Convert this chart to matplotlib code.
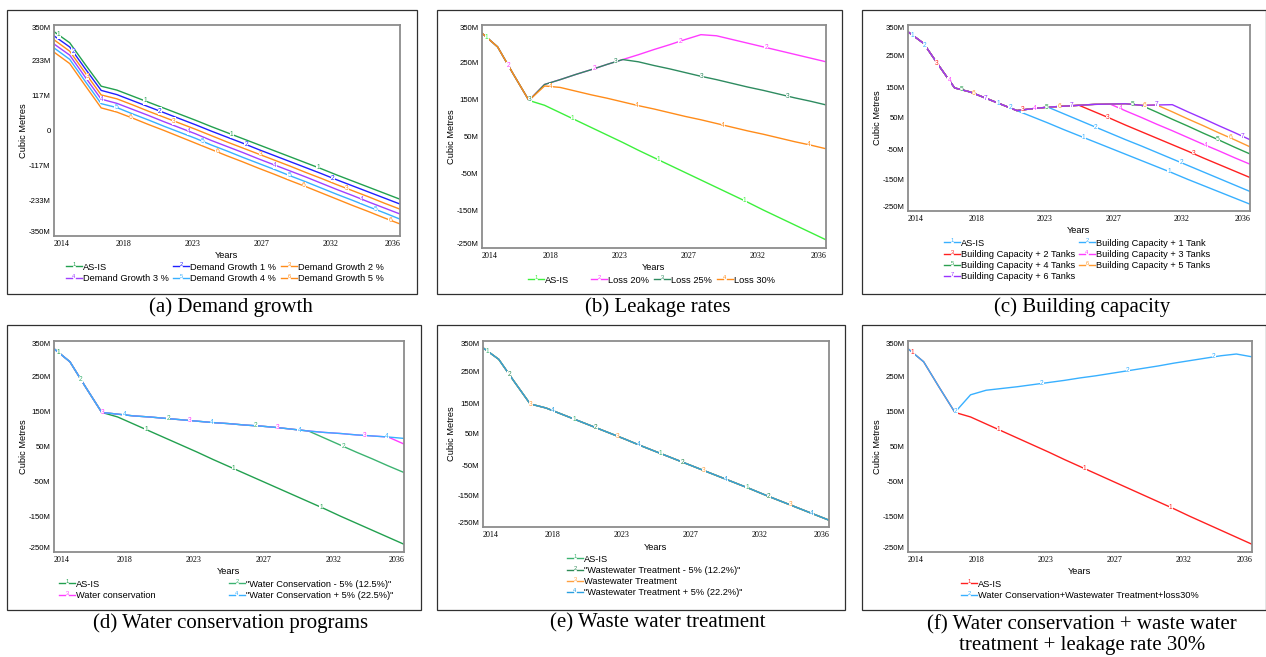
import numpy as np
import matplotlib
matplotlib.use("Agg")
import matplotlib.pyplot as plt
from matplotlib.lines import Line2D
from matplotlib.text import Text
from matplotlib.patches import Rectangle
from matplotlib.legend_handler import HandlerBase

plt.rcParams['font.family'] = ['Liberation Sans', 'DejaVu Sans']

W, H = 1266, 657

# ---------------- data ----------------
years = list(range(2014, 2037))
xtick_labels = ['2014', '2018', '2023', '2027', '2032', '2036']
yticks_a = [-350, -233.33, -116.67, 0, 116.67, 233.33, 350]
yticklabels_a = ['-350M', '-233M', '-117M', '0', '117M', '233M', '350M']
yticks_std = [-250, -150, -50, 50, 150, 250, 350]
yticklabels_std = ['-250M', '-150M', '-50M', '50M', '150M', '250M', '350M']

asis = [328, 291, 218, 147, 134, 114, 94, 74, 54, 34, 13, -7, -27, -47, -67, -87, -107, -127, -148, -168, -188, -208, -228]

# (a) demand growth
dg1 = [314, 277, 204, 133, 119, 99, 79, 59, 39, 19, -2, -22, -42, -63, -83, -103, -123, -143, -164, -184, -204, -224, -244]
dg2 = [301, 263, 190, 118, 105, 85, 64, 44, 24, 4, -17, -38, -58, -78, -98, -118, -139, -159, -180, -200, -220, -241, -261]
dg3 = [287, 250, 176, 104, 90, 70, 50, 29, 9, -11, -33, -53, -73, -94, -114, -134, -154, -175, -196, -216, -237, -257, -277]
dg4 = [274, 236, 162, 89, 76, 55, 35, 14, -6, -26, -48, -68, -89, -109, -129, -150, -170, -191, -212, -232, -253, -273, -294]
dg5 = [260, 222, 148, 75, 61, 41, 20, 0, -21, -42, -63, -84, -104, -125, -145, -166, -186, -207, -228, -249, -269, -290, -310]
names_a = ['AS-IS', 'Demand Growth 1 %', 'Demand Growth 2 %', 'Demand Growth 3 %',
           'Demand Growth 4 %', 'Demand Growth 5 %']
colors_a = ['#22a04f', '#2020ff', '#ff8c1a', '#a040ff', '#38b0ff', '#ff8c1a']

# (b) leakage rates
loss20 = [328, 291, 218, 147, 190, 203, 217, 230, 244, 257, 270, 284, 297, 311, 324, 321, 311, 301, 291, 281, 271, 261, 251]
loss25 = [328, 291, 218, 147, 190, 203, 217, 230, 244, 257, 251, 241, 232, 222, 212, 203, 193, 183, 174, 164, 154, 145, 135]
loss30 = [328, 291, 218, 147, 186, 182, 172, 162, 153, 143, 133, 124, 114, 104, 95, 85, 75, 65, 56, 46, 36, 27, 17]
names_b = ['AS-IS', 'Loss 20%', 'Loss 25%', 'Loss 30%']
colors_b = ['#3cf03c', '#ff3cff', '#2e8b60', '#ff8c1a']

# (c) building capacity
bc1 = [328, 291, 218, 147, 134, 114, 94, 74, 80, 85, 64, 43, 22, 1, -20, -40, -61, -82, -103, -124, -145, -166, -187]
bc2 = [328, 291, 218, 147, 134, 114, 94, 74, 80, 85, 88, 91, 70, 49, 27, 6, -15, -36, -57, -79, -100, -121, -142]
bc3 = [328, 291, 218, 147, 134, 114, 94, 74, 80, 85, 88, 91, 94, 95, 73, 52, 30, 9, -13, -35, -56, -78, -99]
bc4 = [328, 291, 218, 147, 134, 114, 94, 74, 80, 85, 88, 91, 94, 95, 96, 91, 69, 46, 24, 1, -21, -44, -66]
bc5 = [328, 291, 218, 147, 134, 114, 94, 74, 80, 85, 88, 91, 94, 95, 96, 91, 92, 70, 47, 25, 2, -20, -43]
bc6 = [328, 291, 218, 147, 134, 114, 94, 74, 80, 85, 88, 91, 94, 95, 96, 91, 92, 93, 70, 48, 25, 3, -20]
names_c = ['AS-IS', 'Building Capacity + 1 Tank', 'Building Capacity + 2 Tanks',
           'Building Capacity + 3 Tanks', 'Building Capacity + 4 Tanks',
           'Building Capacity + 5 Tanks', 'Building Capacity + 6 Tanks']
colors_c = ['#38b0ff', '#38b0ff', '#ff2020', '#ff3cff', '#2ca050', '#ff9a30', '#9933ff']

# (d) water conservation
wc_minus = [328, 291, 218, 147, 142, 137, 134, 130, 126, 122, 118, 115, 111, 108, 104, 99, 94, 74, 54, 34, 15, -5, -24]
wc_base = [328, 291, 218, 147, 142, 137, 134, 130, 126, 122, 118, 115, 111, 108, 104, 99, 94, 90, 87, 83, 80, 77, 57]
wc_plus = [328, 291, 218, 147, 142, 137, 134, 130, 126, 122, 118, 115, 111, 108, 104, 99, 94, 90, 87, 83, 80, 77, 73]
names_d = ['AS-IS', '"Water Conservation - 5% (12.5%)"', 'Water conservation',
           '"Water Conservation + 5% (22.5%)"']
colors_d = ['#22a04f', '#3cb371', '#ff3cff', '#38b0ff']

# (e) waste water treatment
ww_minus = [328, 291, 218, 147, 134, 114, 94, 74, 54, 34, 13, -7, -27, -47, -67, -87, -107, -127, -148, -168, -188, -208, -228]
ww_base = [328, 291, 218, 147, 134, 114, 94, 74, 54, 34, 13, -7, -27, -47, -67, -87, -107, -127, -148, -168, -188, -208, -228]
ww_plus = [328, 291, 218, 147, 134, 114, 94, 74, 54, 34, 13, -7, -27, -47, -67, -87, -107, -127, -148, -168, -188, -208, -228]
names_e = ['AS-IS', '"Wastewater Treatment - 5% (12.2%)"', 'Wastewater Treatment',
           '"Wastewater Treatment + 5% (22.2%)"']
colors_e = ['#3cb371', '#2e8b57', '#ffa040', '#2a9fe0']

# (f) combined
combo = [328, 291, 218, 147, 197, 210, 215, 220, 226, 232, 238, 245, 251, 258, 265, 272, 279, 287, 294, 301, 308, 313, 305]
names_f = ['AS-IS', 'Water Conservation+Wastewater Treatment+loss30%']
colors_f = ['#ff2020', '#38b0ff']


class NumHandler(HandlerBase):
    def create_artists(self, legend, orig_handle, xdescent, ydescent, width,
                       height, fontsize, trans):
        c = orig_handle.get_color()
        y = height / 2.0 - ydescent
        x0 = -xdescent
        a = Line2D([x0, x0 + 0.36 * width], [y, y], color=c, lw=1.0, transform=trans)
        b = Line2D([x0 + 0.64 * width, x0 + width], [y, y], color=c, lw=1.0, transform=trans)
        t = Text(x0 + 0.5 * width, y + 1.0, orig_handle.get_gid(), color=c,
                 fontsize=fontsize * 0.62, ha='center', va='center', transform=trans)
        return [a, b, t]


fig = plt.figure(figsize=(W / 100, H / 100), dpi=100)


def px_rect(x0, y0, x1, y1):
    return [x0 / W, 1 - y1 / H, (x1 - x0) / W, (y1 - y0) / H]


def draw_panel(rect, ylim, yticks, yticklabels, series, colors, names,
               leg_x, leg_cols, leg_y, box, caption, cap_xy):
    ax = fig.add_axes(px_rect(*rect))
    wpx = rect[2] - rect[0]
    hpx = rect[3] - rect[1]
    for vals, c in zip(series, colors):
        ax.plot(years, vals, color=c, lw=1.0, solid_joinstyle='round')
    n = len(series)
    for k, (vals, c) in enumerate(zip(series, colors)):
        for j in range(4):
            t = 2014.3 + 5.5 * j + 5.5 * k / n
            if t <= 2035.8:
                ax.text(t, np.interp(t, years, vals), str(k + 1), color=c,
                        fontsize=4.8, ha='center', va='center', zorder=5,
                        bbox=dict(facecolor='white', edgecolor='none', pad=0.05))
    ax.set_xlim(2014, 2036)
    ax.set_ylim(*ylim)
    ax.set_xticks(np.linspace(2014, 2036, 6))
    ax.set_xticklabels(xtick_labels, family='Liberation Serif', fontsize=5.8)
    ax.set_yticks(yticks)
    ax.set_yticklabels(yticklabels, fontsize=5.6)
    ax.tick_params(length=0)
    ax.tick_params(axis='x', pad=2.6)
    ax.tick_params(axis='y', pad=2.5)
    xtl = ax.get_xticklabels()
    xtl[0].set_ha('left')
    xtl[-1].set_ha('right')
    ytl = ax.get_yticklabels()
    ytl[0].set_va('bottom')
    ytl[-1].set_va('top')
    for s in ax.spines.values():
        s.set_color('#8c8c8c')
        s.set_linewidth(1.3)
    ax.set_xlabel('Years', fontsize=6.7)
    ax.xaxis.label.set_va('center')
    ax.xaxis.set_label_coords(0.5, -20.0 / hpx)
    ax.set_ylabel('Cubic Metres', fontsize=6.7)
    ax.yaxis.label.set_va('center')
    ax.yaxis.set_label_coords(-31.0 / wpx, 0.5)

    for cx, idxs in zip(leg_x, leg_cols):
        hs = [Line2D([], [], color=colors[i], gid=str(i + 1)) for i in idxs]
        fig.legend(hs, [names[i] for i in idxs], loc='upper left',
                   bbox_to_anchor=(cx / W, 1 - (leg_y - 5.4) / H),
                   frameon=False, borderpad=0, borderaxespad=0,
                   handlelength=1.7, handletextpad=0.12, labelspacing=0.24,
                   fontsize=6.7, handler_map={Line2D: NumHandler()})

    bx0, by0, bx1, by1 = box
    fig.add_artist(Rectangle((bx0 / W, 1 - by1 / H), (bx1 - bx0) / W, (by1 - by0) / H,
                             transform=fig.transFigure, fill=False,
                             edgecolor='#303030', lw=0.9))
    fig.text(cap_xy[0] / W, 1 - cap_xy[1] / H, caption, ha='center', va='center',
             fontsize=15, family='Liberation Serif', linespacing=1.05)
    return ax


draw_panel((54, 25, 400, 236), (-350, 350), yticks_a, yticklabels_a,
           [asis, dg1, dg2, dg3, dg4, dg5], colors_a, names_a,
           [66, 173, 281], [[0, 3], [1, 4], [2, 5]], 268,
           (7.5, 9.5, 416.5, 294), '(a) Demand growth', (230.5, 307))

draw_panel((482, 25, 826, 248), (-250, 350), yticks_std, yticklabels_std,
           [asis, loss20, loss25, loss30], colors_b, names_b,
           [528, 591, 654, 717], [[0], [1], [2], [3]], 281,
           (436.5, 9.5, 842, 294), '(b) Leakage rates', (658, 307))

draw_panel((908, 25, 1250, 211), (-250, 350), yticks_std, yticklabels_std,
           [asis, bc1, bc2, bc3, bc4, bc5, bc6], colors_c, names_c,
           [944, 1079], [[0, 2, 4, 6], [1, 3, 5]], 244,
           (861.5, 9.5, 1265.5, 294), '(c) Building capacity', (1082, 307))

draw_panel((54, 341, 404, 552), (-250, 350), yticks_std, yticklabels_std,
           [asis, wc_minus, wc_base, wc_plus], colors_d, names_d,
           [59, 229], [[0, 2], [1, 3]], 585,
           (7.5, 325, 420.5, 610), '(d) Water conservation programs', (231, 623))

draw_panel((483, 341, 829, 527), (-250, 350), yticks_std, yticklabels_std,
           [asis, ww_minus, ww_base, ww_plus], colors_e, names_e,
           [567], [[0, 1, 2, 3]], 560,
           (436.5, 325, 845, 610), '(e) Waste water treatment', (658, 623))

draw_panel((908, 341, 1252, 552), (-250, 350), yticks_std, yticklabels_std,
           [asis, combo], colors_f, names_f,
           [961], [[0, 1]], 585,
           (861.5, 325, 1265.5, 610),
           '(f) Water conservation + waste water\ntreatment + leakage rate 30%', (1082, 635))

fig.savefig('out.png', dpi=100, facecolor='white')
